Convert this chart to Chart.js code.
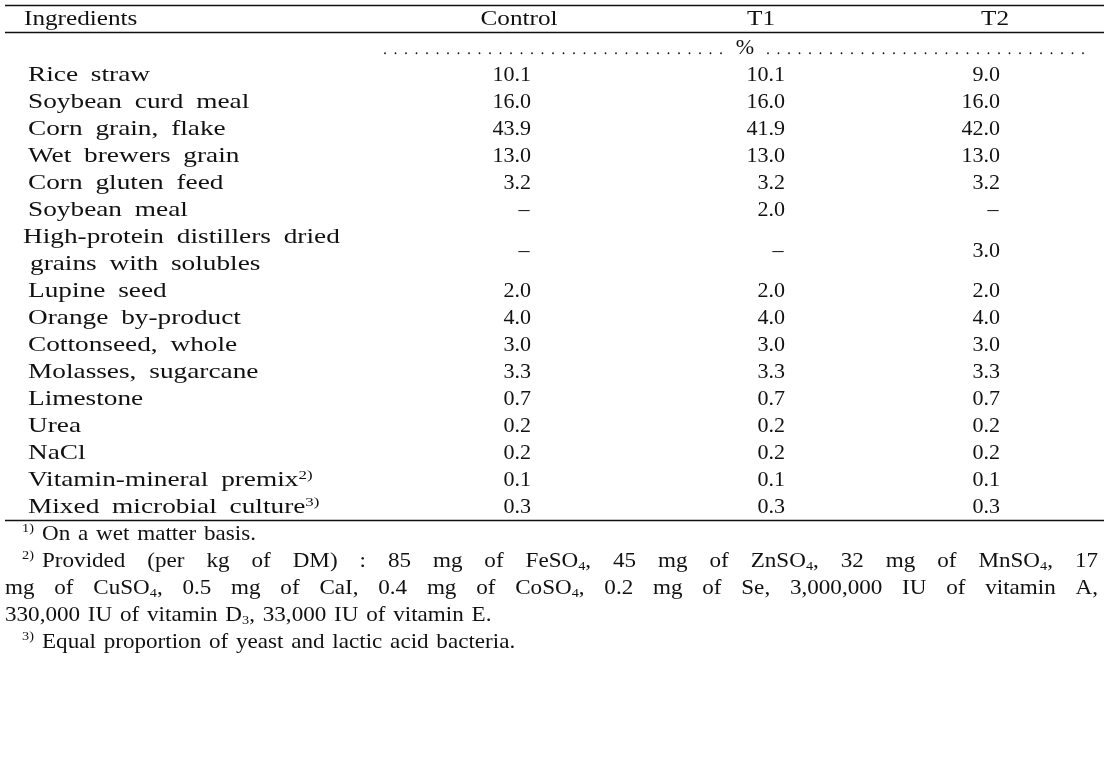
<!DOCTYPE html>
<html>
<head>
<meta charset="utf-8">
<script src="https://cdn.jsdelivr.net/npm/chart.js@4/dist/chart.umd.min.js"></script>
<style>
    html, body { margin: 0; background: #fff; }
    #wrap { width: 1118px; height: 759px; position: relative; }
</style>
</head>
<body>
<div id="wrap"><canvas id="table"></canvas></div>
<script>
// ---- table data ----
const headers = ['Ingredients', 'Control', 'T1', 'T2'];
const unitLabel = '%';
const ingredients = [
    ['Rice straw'],
    ['Soybean curd meal'],
    ['Corn grain, flake'],
    ['Wet brewers grain'],
    ['Corn gluten feed'],
    ['Soybean meal'],
    ['High-protein distillers dried', 'grains with solubles'],
    ['Lupine seed'],
    ['Orange by-product'],
    ['Cottonseed, whole'],
    ['Molasses, sugarcane'],
    ['Limestone'],
    ['Urea'],
    ['NaCl'],
    ['Vitamin-mineral premix'],
    ['Mixed microbial culture']
];
const ingredientNotes = [null, null, null, null, null, null, null, null, null, null, null, null, null, null, '2)', '3)'];
const control = [10.1, 16.0, 43.9, 13.0, 3.2, null, null, 2.0, 4.0, 3.0, 3.3, 0.7, 0.2, 0.2, 0.1, 0.3];
const t1      = [10.1, 16.0, 41.9, 13.0, 3.2, 2.0, null, 2.0, 4.0, 3.0, 3.3, 0.7, 0.2, 0.2, 0.1, 0.3];
const t2      = [9.0, 16.0, 42.0, 13.0, 3.2, null, 3.0, 2.0, 4.0, 3.0, 3.3, 0.7, 0.2, 0.2, 0.1, 0.3];
const footnoteMarks = ['1)', '2)', '3)'];
const footnoteLines = [
    ['On a wet matter basis.'],
    ['Provided (per kg of DM) : 85 mg of FeSO_{4}, 45 mg of ZnSO_{4}, 32 mg of MnSO_{4}, 17',
     'mg of CuSO_{4}, 0.5 mg of CaI, 0.4 mg of CoSO_{4}, 0.2 mg of Se, 3,000,000 IU of vitamin A,',
     '330,000 IU of vitamin D_{3}, 33,000 IU of vitamin E.'],
    ['Equal proportion of yeast and lactic acid bacteria.']
];

// ---- layout (x in px units of the x scale, y in text lines of the y scale) ----
const L = {
    ruleLeft: 5, ruleRight: 1104,
    topRule: -2.57, headerLine: -2.08, headRule: -1.57, unitLine: -1.0, bottomRule: 16.5, footStart: 16.97,
    headerX: [24, 519, 761, 995],
    labelX: 28, labelWrapX: 23, labelWrapIndent: 30,
    valueRight: [531, 785, 1000],
    dashShift: 7,
    noteMarkX: 22, noteTextX: 42, noteContX: 5, noteRight: 1098,
    dots: [[385, 722], [768, 1090]], dotGap: 10.5, unitX: 745
};
const labelStyle = { size: 21, sx: 1.3, gap: 6 };
const headStyle = { size: 21, sx: 1.2, gap: 0 };
const valueStyle = { size: 21, sx: 1.05, gap: 0 };
const noteStyle = { size: 21, sx: 1.1, gap: 2 };
const INK = '#111';

// ---- rich text helpers ----
const font = size => size + 'px "Liberation Serif", "Times New Roman", serif';

function parseRich(str) {
    const parts = [];
    const re = /([_^])\{([^}]*)\}/g;
    let last = 0, m;
    while ((m = re.exec(str))) {
        if (m.index > last) parts.push({ t: str.slice(last, m.index) });
        parts.push({ t: m[2], mode: m[1] === '_' ? 'sub' : 'sup' });
        last = re.lastIndex;
    }
    if (last < str.length) parts.push({ t: str.slice(last) });
    return parts;
}

function layoutRun(ctx, parts, st) {
    let w = 0;
    const items = [];
    parts.forEach(p => {
        p.t.split(/( )/).forEach(s => {
            if (!s) return;
            const size = p.mode ? st.size * 0.62 : st.size;
            ctx.font = font(size);
            const isSpace = s === ' ';
            const iw = ctx.measureText(s).width * st.sx + (isSpace ? st.gap : 0);
            items.push({ t: s, mode: p.mode, size, w: iw, isSpace });
            w += iw;
        });
    });
    return { items, w };
}

function drawRun(ctx, parts, x, y, st, align, justifyTo) {
    const run = layoutRun(ctx, parts, st);
    let extra = 0;
    if (justifyTo) {
        const n = run.items.filter(i => i.isSpace).length;
        if (n) extra = (justifyTo - x - run.w) / n;
    }
    let cx = align === 'right' ? x - run.w : align === 'center' ? x - run.w / 2 : x;
    const base = y + st.size * 0.33;
    ctx.fillStyle = INK;
    ctx.textBaseline = 'alphabetic';
    ctx.textAlign = 'left';
    run.items.forEach(it => {
        if (!it.isSpace) {
            const dy = it.mode === 'sup' ? -st.size * 0.36 : it.mode === 'sub' ? st.size * 0.18 : 0;
            ctx.save();
            ctx.font = font(it.size);
            ctx.translate(cx, base + dy);
            ctx.scale(st.sx, 1);
            ctx.fillText(it.t, 0, 0);
            ctx.restore();
        }
        cx += it.w + (it.isSpace ? extra : 0);
    });
    return cx;
}

// ---- row line positions (multi-line labels take several lines) ----
const rowStart = [];
ingredients.reduce((line, lines, i) => { rowStart[i] = line; return line + lines.length; }, 0);

// one point per cell, positioned by the chart's scales
const labelPoints = [];
ingredients.forEach((lines, i) => {
    lines.forEach((text, k) => {
        const x = lines.length > 1 ? (k === 0 ? L.labelWrapX : L.labelWrapIndent) : L.labelX;
        const note = k === lines.length - 1 ? ingredientNotes[i] : null;
        labelPoints.push({ x, y: rowStart[i] + k, text, note });
    });
});
const valuePoints = (series, col) => series.map((v, i) => ({
    x: L.valueRight[col],
    y: rowStart[i] + (ingredients[i].length - 1) / 2,
    v
}));

const tablePlugin = {
    id: 'tableText',
    afterDatasetsDraw(chart) {
        const { ctx, scales: { x, y } } = chart;
        ctx.save();

        // rules
        ctx.strokeStyle = INK;
        ctx.lineWidth = 1.3;
        [L.topRule, L.headRule, L.bottomRule].forEach(line => {
            const py = Math.round(y.getPixelForValue(line)) + 0.5;
            ctx.beginPath();
            ctx.moveTo(x.getPixelForValue(L.ruleLeft), py);
            ctx.lineTo(x.getPixelForValue(L.ruleRight), py);
            ctx.stroke();
        });

        // header
        const hy = y.getPixelForValue(L.headerLine);
        headers.forEach((h, c) => {
            drawRun(ctx, [{ t: h }], x.getPixelForValue(L.headerX[c]), hy, headStyle, c === 0 ? 'left' : 'center');
        });

        // unit row with dotted leaders
        const uy = y.getPixelForValue(L.unitLine);
        drawRun(ctx, [{ t: unitLabel }], x.getPixelForValue(L.unitX), uy, valueStyle, 'center');
        ctx.fillStyle = INK;
        L.dots.forEach(([a, b]) => {
            for (let d = a; d <= b; d += L.dotGap) {
                ctx.beginPath();
                ctx.arc(x.getPixelForValue(d), uy + 6, 0.9, 0, Math.PI * 2);
                ctx.fill();
            }
        });

        // cells from dataset elements
        chart.data.datasets.forEach((ds, di) => {
            const meta = chart.getDatasetMeta(di);
            meta.data.forEach((el, i) => {
                const raw = ds.data[i];
                if (ds.kind === 'label') {
                    const parts = [{ t: raw.text }];
                    if (raw.note) parts.push({ t: raw.note, mode: 'sup' });
                    drawRun(ctx, parts, el.x, el.y, labelStyle, 'left');
                } else if (raw.v == null) {
                    drawRun(ctx, [{ t: '\u2013' }], el.x - L.dashShift, el.y, valueStyle, 'center');
                } else {
                    drawRun(ctx, [{ t: raw.v.toFixed(1) }], el.x, el.y, valueStyle, 'right');
                }
            });
        });

        // footnotes
        let line = L.footStart;
        footnoteLines.forEach((lines, n) => {
            lines.forEach((text, k) => {
                const py = y.getPixelForValue(line);
                let sx = L.noteContX;
                if (k === 0) {
                    drawRun(ctx, [{ t: footnoteMarks[n], mode: 'sup' }], x.getPixelForValue(L.noteMarkX), py, noteStyle, 'left');
                    sx = L.noteTextX;
                }
                const justify = k < lines.length - 1 ? x.getPixelForValue(L.noteRight) : null;
                drawRun(ctx, parseRich(text), x.getPixelForValue(sx), py, noteStyle, 'left', justify);
                line += 1;
            });
        });

        ctx.restore();
    }
};

new Chart(document.getElementById('table'), {
    type: 'scatter',
    data: {
        datasets: [
            { kind: 'label', data: labelPoints, pointRadius: 0 },
            { kind: 'value', data: valuePoints(control, 0), pointRadius: 0 },
            { kind: 'value', data: valuePoints(t1, 1), pointRadius: 0 },
            { kind: 'value', data: valuePoints(t2, 2), pointRadius: 0 }
        ]
    },
    options: {
        responsive: true,
        maintainAspectRatio: false,
        animation: false,
        layout: { padding: 0 },
        plugins: { legend: { display: false }, tooltip: { enabled: false } },
        scales: {
            x: { type: 'linear', display: false, min: 0, max: 1118 },
            y: { type: 'linear', display: false, reverse: true, min: -2.75, max: 25.35 }
        }
    },
    plugins: [tablePlugin]
});
</script>
</body>
</html>
